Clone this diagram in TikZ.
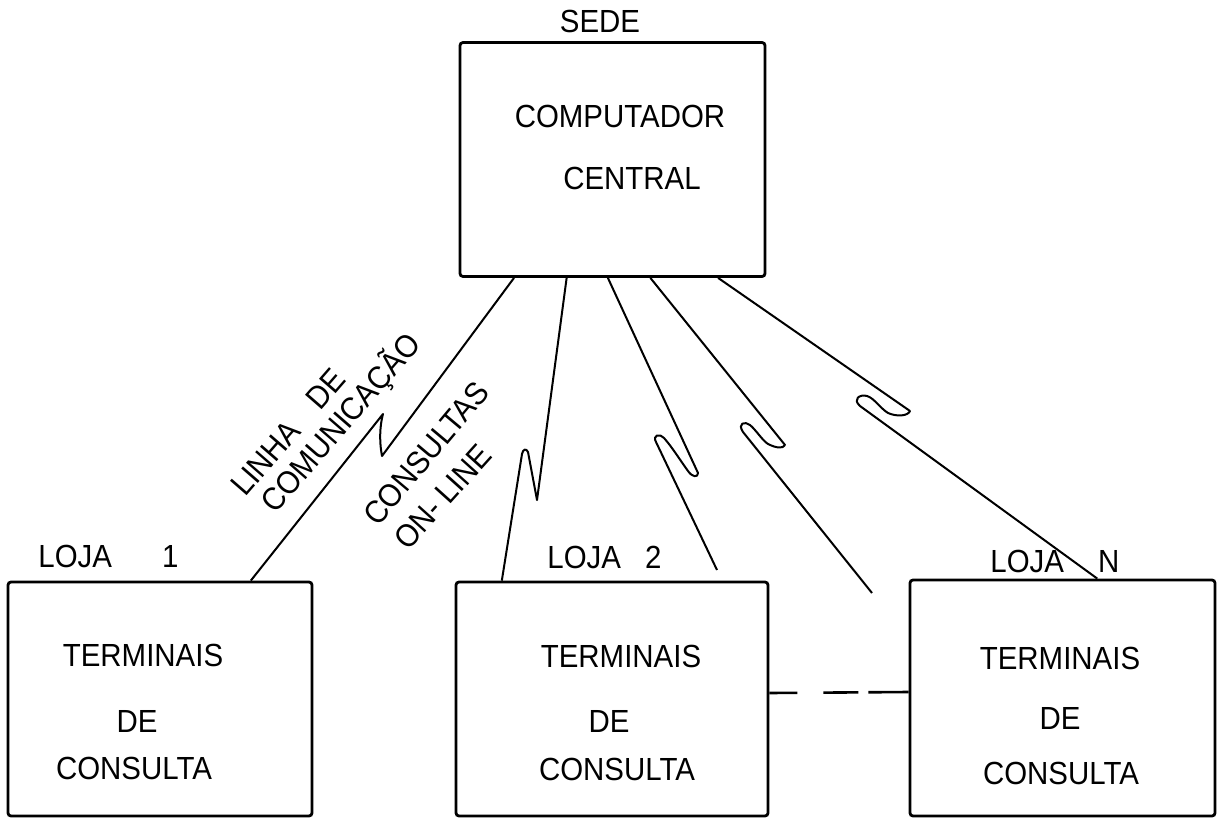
\documentclass[tikz,border=0pt]{standalone}
\usepackage{fontspec}
\setmainfont[FakeStretch=0.92]{Liberation Sans}
\usetikzlibrary{calc}

\begin{document}
\begin{tikzpicture}[x=0.5pt, y=-0.5pt,
      box/.style={draw, line width=1.4pt, rounded corners=1.5pt, inner sep=0pt, minimum height=117pt},
      lbl/.style={font=\fontsize{16}{19}\selectfont, inner sep=0pt},
      wire/.style={line width=1pt, line join=round}
    ]
      \useasboundingbox (0,0) rectangle (1225,818);
      % boxes
      \node[box, minimum width=152.5pt] (sede) at (612.5,159.5) {};
      \node[box, minimum width=152pt] (loja1) at (160,699) {};
      \node[box, minimum width=156pt] (loja2) at (612,699) {};
      \node[box, minimum width=152.5pt, minimum height=118pt] (lojan) at (1062.5,698) {};
      % texts
      \node[lbl] (sedelbl) at (600,21) {SEDE};
      \node[lbl] (comp) at (620,116) {COMPUTADOR};
      \node[lbl] (cent) at (632,178) {CENTRAL};
      \node[lbl, anchor=west] (l1lbl) at (38,556) {LOJA\hspace{25pt}1};
      \node[lbl, anchor=west] (l2lbl) at (547,557) {LOJA\hspace{12pt}2};
      \node[lbl, anchor=west] (lnlbl) at (990,561) {LOJA\hspace{17pt}N};
      \node[lbl] (t1a) at (143,655) {TERMINAIS};
      \node[lbl] (t1b) at (137,721) {DE};
      \node[lbl] (t1c) at (134,768) {CONSULTA};
      \node[lbl] (t2a) at (621,656) {TERMINAIS};
      \node[lbl] (t2b) at (609,721) {DE};
      \node[lbl] (t2c) at (617,769) {CONSULTA};
      \node[lbl] (tna) at (1060,658) {TERMINAIS};
      \node[lbl] (tnb) at (1060,718) {DE};
      \node[lbl] (tnc) at (1061,773) {CONSULTA};
      \node[lbl, anchor=base west, rotate=49] (linha) at (245,498) {LINHA\hspace{14pt}DE};
      \node[lbl, anchor=base west, rotate=49] (comun) at (275,515) {COMUNICAÇÃO};
      \node[lbl, anchor=base west, rotate=50] (cons) at (378,528) {CONSULTAS};
      \node[lbl, anchor=base west, rotate=48] (online) at (408,552) {ON- LINE};
      % line ends
      \coordinate (a1) at ($(sede.south west)!.18!(sede.south east)$);
      \coordinate (a2) at ($(sede.south west)!.351!(sede.south east)$);
      \coordinate (a3) at ($(sede.south west)!.485!(sede.south east)$);
      \coordinate (a4) at ($(sede.south west)!.623!(sede.south east)$);
      \coordinate (a5) at ($(sede.south west)!.843!(sede.south east)$);
      \coordinate (b1) at ($(loja1.north west)!.796!(loja1.north east)$);
      \coordinate (b2) at ($(loja2.north west)!.15!(loja2.north east)$);
      \coordinate (b3) at (717,570);
      \coordinate (b4) at (872,593);
      \coordinate (b5) at ($(lojan.north west)!.613!(lojan.north east)$);
      % lines
      \draw[wire] (a1) -- (382,456) .. controls (379,440) and (380,425) .. (383,414) -- (b1);
      \draw[wire] (a2) -- (537,500) -- (528,452) .. controls (526,448) and (523,449) .. (522,454) -- (b2);
      \draw[wire] (a3) -- (698,473) .. controls (698,478) and (692,477) .. (688,471)
        .. controls (680,460) and (672,447) .. (664,438) .. controls (660,433) and (652,435) .. (656,442) -- (b3);
      \draw[wire] (a4) -- (785,445) .. controls (783,449) and (776,448) .. (768,444)
        .. controls (762,440) and (756,430) .. (750,425) .. controls (745,421) and (737,423) .. (743,432) -- (b4);
      \draw[wire] (a5) -- (910,411) .. controls (908,416) and (897,417) .. (888,413)
        .. controls (880,408) and (874,398) .. (867,396) .. controls (860,394) and (852,399) .. (860,406) -- (b5);
      \draw[line width=1.3pt, dash pattern=on 14pt off 13pt on 17.5pt off 5pt on 30pt]
        ([yshift=3pt]loja2.east) -- ([yshift=3pt]lojan.west);
    \end{tikzpicture}
\end{document}
